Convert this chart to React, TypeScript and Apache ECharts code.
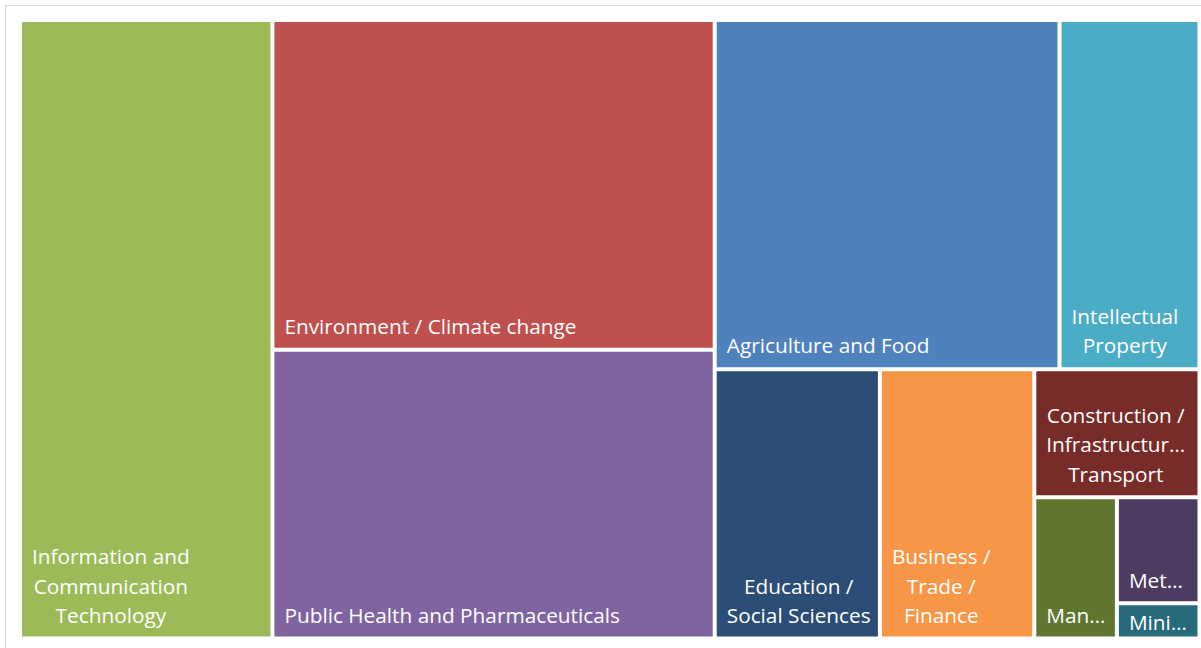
import React, { useEffect, useRef } from 'react';
import * as echarts from 'echarts';

// Categories (share of the whole, in %)
const categories = [
  'Information and Communication Technology',
  'Environment / Climate change',
  'Public Health and Pharmaceuticals',
  'Agriculture and Food',
  'Intellectual Property',
  'Education / Social Sciences',
  'Business / Trade / Finance',
  'Construction / Infrastructure / Transport',
  'Manufacturing',
  'Metallurgy',
  'Mining',
];
const shares = [21.4, 20.0, 17.5, 16.5, 6.7, 6.1, 5.7, 2.9, 1.6, 1.2, 0.4];
// Tile labels as they appear (wrapped / truncated) in the reference
const tileLabels = [
  'Information and\nCommunication\nTechnology',
  'Environment / Climate change',
  'Public Health and Pharmaceuticals',
  'Agriculture and Food',
  'Intellectual\nProperty',
  'Education /\nSocial Sciences',
  'Business /\nTrade /\nFinance',
  'Construction /\nInfrastructur…\nTransport',
  'Man…',
  'Met…',
  'Mini…',
];
const tileColors = [
  '#9BBB59', '#C0504D', '#8064A2', '#4F81BD', '#4BACC6',
  '#2C4D75', '#F79646', '#772C2A', '#5F7530', '#4D3B62', '#276A7C',
];
// Grouping of category indices that gives the reference's tiling order
const tiling: any[] = [0, [1, 2], [[3, 4], [5, 6, [7, [8, [9, 10]]]]]];

const FONT = 'Open Sans';
const FONT_SIZE = 20.8;
const LINE_H = 29.3;
const PAD_X = 10;
const PAD_BOTTOM = 7;

let groupCounter = 0;
function buildNode(entry: any): any {
  if (typeof entry === 'number') {
    return {
      name: categories[entry],
      value: shares[entry],
      itemStyle: { color: tileColors[entry] },
    };
  }
  groupCounter += 1;
  return { name: 'group ' + groupCounter, children: entry.map(buildNode) };
}

export default function App() {
  const ref = useRef<HTMLDivElement>(null);

  useEffect(() => {
    if (!ref.current) return;
    document.body.style.margin = '0';
    const chart = echarts.init(ref.current, undefined, { renderer: 'svg' });
    groupCounter = 0;
    const data = tiling.map(buildNode);
    const labelByName: Record<string, string> = {};
    categories.forEach((c, i) => {
      labelByName[c] = tileLabels[i];
    });

    chart.setOption({
      animation: false,
      backgroundColor: '#ffffff',
      tooltip: { show: false },
      graphic: [
        {
          type: 'rect',
          shape: { x: 5.5, y: 5.5, width: 1400, height: 800 },
          style: { fill: 'none', stroke: '#d9d9d9', lineWidth: 1 },
          silent: true,
          z: -10,
        },
      ],
      series: [
        {
          type: 'treemap',
          left: 22,
          top: 22,
          width: 1175.5,
          height: 614.5,
          sort: false,
          squareRatio: 1,
          roam: false,
          nodeClick: false,
          breadcrumb: { show: false },
          visibleMin: 0,
          itemStyle: { borderWidth: 0, gapWidth: 4, borderColor: '#ffffff' },
          emphasis: { disabled: true },
          upperLabel: { show: false },
          label: {
            show: true,
            position: 'insideTopLeft',
            distance: 0,
            padding: 0,
            color: '#ffffff',
            fontFamily: FONT,
            fontSize: FONT_SIZE,
            lineHeight: LINE_H,
            overflow: 'none',
            formatter: (p: any) => labelByName[p.name] ?? '',
          },
          labelLayout: (p: any) => {
            const n = String(p.text ?? '').split('\n').length;
            const blockH = n * LINE_H;
            const fits = p.rect.height >= blockH + 2 * PAD_BOTTOM;
            const y = fits
              ? p.rect.y + p.rect.height - PAD_BOTTOM - blockH
              : p.rect.y + (p.rect.height - blockH) / 2 + 1.5;
            return {
              x: p.rect.x + PAD_X + p.labelRect.width / 2,
              y,
              align: 'center',
              verticalAlign: 'top',
            };
          },
          data,
        },
      ],
    });
    return () => chart.dispose();
  }, []);

  return (
    <div style={{ position: 'fixed', left: 0, top: 0, width: 1201, height: 648 }}>
      <div ref={ref} style={{ width: 1201, height: 648 }} />
    </div>
  );
}
